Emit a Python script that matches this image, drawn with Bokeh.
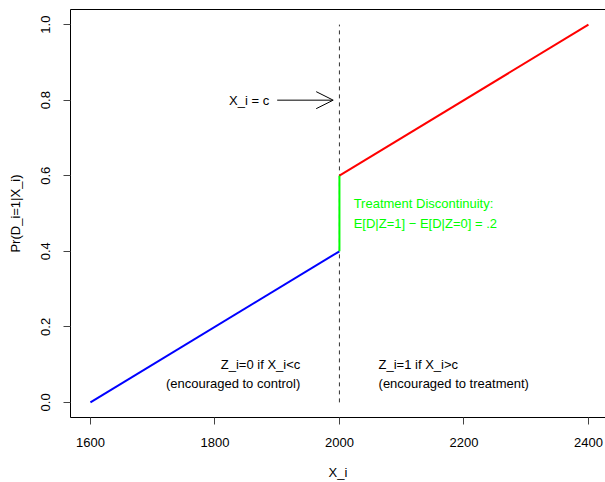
from bokeh.plotting import figure
from bokeh.models import Range1d, Arrow, OpenHead, FixedTicker, NumeralTickFormatter, LinearAxis
from bokeh.core.properties import value
from bokeh.embed import file_html
from bokeh.resources import INLINE

# ---- data ----
control_x = [1600, 2000]
control_y = [0.0, 0.4]
treat_x = [2000, 2400]
treat_y = [0.6, 1.0]
jump_x = [2000, 2000]
jump_y = [0.4, 0.6]
cutoff_x = [2000, 2000]
cutoff_y = [0.0, 1.0]
arrow_x = [1900, 1990]
arrow_y = [0.8, 0.8]
x_ticks = [1600, 1800, 2000, 2200, 2400]
y_ticks = [0.0, 0.2, 0.4, 0.6, 0.8, 1.0]

label_c_text = ["X_i = c"]
label_c_x = [1900]
label_c_y = [0.8]

jump_text = ["Treatment Discontinuity:\nE[D|Z=1] \u2212 E[D|Z=0] = .2"]
jump_text_x = [2010]
jump_text_y = [0.5]

left_text = ["Z_i=0 if X_i<c\n(encouraged to control)"]
left_text_x = [1950]
left_text_y = [0.075]

right_text = ["Z_i=1 if X_i>c\n(encouraged to treatment)"]
right_text_x = [2050]
right_text_y = [0.075]

FONT = "Liberation Sans"
FS = "13px"

p = figure(width=605, height=482, output_backend="svg", toolbar_location=None,
           x_range=Range1d(1568, 2427.4), y_range=Range1d(-0.04, 1.04),
           min_border_left=70, min_border_right=0, min_border_top=9, min_border_bottom=63,
           x_axis_label="X_i", y_axis_label="Pr(D_i=1|X_i)")

p.xgrid.visible = False
p.ygrid.visible = False
p.outline_line_color = None
p.background_fill_color = "white"
p.border_fill_color = "white"

p.xaxis.ticker = FixedTicker(ticks=x_ticks)
p.yaxis.ticker = FixedTicker(ticks=y_ticks)
p.yaxis.formatter = NumeralTickFormatter(format="0.0")
p.yaxis.major_label_orientation = "vertical"

for ax in (p.xaxis[0], p.yaxis[0]):
    ax.axis_line_color = "black"
    ax.major_tick_line_color = "#444444"
    ax.major_tick_out = 7
    ax.major_tick_in = 0
    ax.minor_tick_line_color = None
    ax.major_label_text_font = FONT
    ax.major_label_text_font_size = FS
    ax.major_label_text_color = "black"
    ax.axis_label_text_font = FONT
    ax.axis_label_text_font_size = FS
    ax.axis_label_text_font_style = "normal"
    ax.axis_label_text_color = "black"

p.xaxis.major_label_standoff = 13
p.xaxis.axis_label_standoff = 15
p.yaxis.major_label_standoff = 13
p.yaxis.axis_label_standoff = 16

# top border of the box (right side is cut off in the reference)
top_border = LinearAxis(ticker=FixedTicker(ticks=[]), axis_line_color="black",
                        major_tick_out=0, major_tick_in=0, minor_tick_line_color=None,
                        major_label_text_font_size="0px", major_label_standoff=0)
p.add_layout(top_border, "above")

# cutoff dashed line
p.line(cutoff_x, cutoff_y, line_color="#333333", line_width=1, line_dash="4 4")
# regression segments
p.line(control_x, control_y, line_color="#0000FF", line_width=2)
p.line(treat_x, treat_y, line_color="#FF0000", line_width=2)
p.line(jump_x, jump_y, line_color="#00FF00", line_width=2)

# arrow
p.add_layout(Arrow(end=OpenHead(size=17, line_width=1, line_color="black"),
                   x_start=arrow_x[0], y_start=arrow_y[0],
                   x_end=arrow_x[1], y_end=arrow_y[1],
                   line_color="black", line_width=1))

common = dict(text_font=value(FONT), text_font_size=FS, text_baseline="middle",
              text_line_height=1.32)
p.text(x=label_c_x, y=label_c_y, text=label_c_text, text_align="right", x_offset=-8,
       text_color="black", **common)
p.text(x=jump_text_x, y=jump_text_y, text=jump_text, text_align="left", x_offset=8,
       text_color="#00FF00", **common)
p.text(x=left_text_x, y=left_text_y, text=left_text, text_align="right", x_offset=-8,
       text_color="black", **common)
p.text(x=right_text_x, y=right_text_y, text=right_text, text_align="left", x_offset=8,
       text_color="black", **common)

open("out.html", "w").write(file_html(p, INLINE))
